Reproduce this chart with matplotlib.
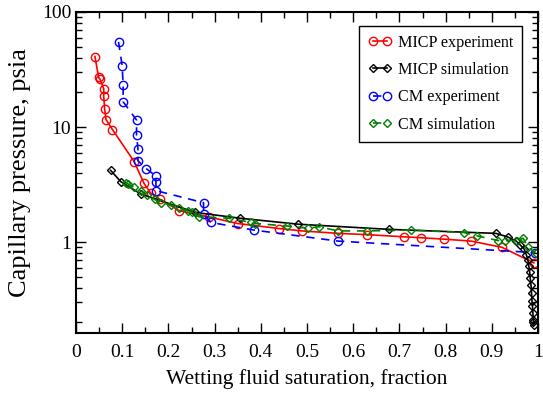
import matplotlib
matplotlib.use('Agg')
import matplotlib.pyplot as plt
from matplotlib.ticker import MultipleLocator, LogLocator, FixedLocator, FuncFormatter

plt.rcParams['font.family'] = ['Liberation Serif', 'DejaVu Serif']

# MICP experiment
micp_exp_x = [0.041, 0.049, 0.052, 0.060, 0.060, 0.062, 0.065, 0.079, 0.126, 0.147,
              0.162, 0.182, 0.223, 0.288, 0.350, 0.440, 0.489, 0.568, 0.630, 0.711,
              0.747, 0.797, 0.855, 0.922, 0.991]
micp_exp_y = [41, 27, 26, 21.5, 18.5, 14.3, 11.6, 9.5, 5.0, 3.25,
              2.65, 2.35, 1.88, 1.65, 1.45, 1.31, 1.25, 1.19, 1.16, 1.11,
              1.09, 1.06, 1.02, 0.90, 0.66]

# MICP simulation
micp_sim_x = [0.075, 0.097, 0.140, 0.258, 0.356, 0.481, 0.677, 0.909, 0.934, 0.953,
              0.962, 0.970, 0.975, 0.978, 0.980, 0.982, 0.983, 0.985, 0.986, 0.987,
              0.988, 0.989, 0.990, 0.990, 0.991]
micp_sim_y = [4.2, 3.35, 2.62, 1.81, 1.61, 1.43, 1.29, 1.19, 1.11, 1.02,
              0.94, 0.87, 0.77, 0.70, 0.62, 0.55, 0.49, 0.42, 0.36, 0.31,
              0.28, 0.24, 0.21, 0.20, 0.19]

# CM experiment
cm_exp_x = [0.092, 0.100, 0.102, 0.102, 0.131, 0.131, 0.134, 0.134, 0.152, 0.173,
            0.173, 0.173, 0.276, 0.276, 0.292, 0.386, 0.567, 0.993]
cm_exp_y = [55, 34, 23, 16.6, 11.5, 8.5, 6.5, 5.1, 4.35, 3.75,
            3.3, 2.8, 2.2, 1.75, 1.48, 1.27, 1.02, 0.81]

# CM simulation
cm_sim_x = [0.109, 0.113, 0.125, 0.140, 0.154, 0.170, 0.185, 0.205, 0.224, 0.242,
            0.251, 0.266, 0.332, 0.379, 0.388, 0.456, 0.502, 0.526, 0.567, 0.630,
            0.726, 0.840, 0.869, 0.914, 0.928, 0.955, 0.968, 0.978, 0.995]
cm_sim_y = [3.28, 3.19, 2.99, 2.78, 2.56, 2.35, 2.20, 2.10, 1.96, 1.87,
            1.81, 1.66, 1.61, 1.48, 1.45, 1.38, 1.32, 1.36, 1.25, 1.25,
            1.27, 1.21, 1.13, 1.03, 1.03, 1.03, 1.08, 0.90, 0.81]

fig = plt.figure(figsize=(5.43, 3.93), dpi=100)
ax = fig.add_axes([76/543, 1-333/393, 462/543, 321/393])

ax.plot(micp_exp_x, micp_exp_y, '-o', color='red', mfc='none', ms=6, mew=1.0, lw=1.2,
        label='MICP experiment')
ax.plot(micp_sim_x, micp_sim_y, '-D', color='black', mfc='none', ms=4, mew=1.0, lw=1.2,
        label='MICP simulation')
ax.plot(cm_exp_x, cm_exp_y, '--o', color='blue', mfc='none', ms=6, mew=1.0, lw=1.2,
        dashes=(5, 4), label='CM experiment')
ax.plot(cm_sim_x, cm_sim_y, '--D', color='green', mfc='none', ms=4, mew=1.0, lw=1.2,
        dashes=(5, 4), label='CM simulation')

ax.set_yscale('log')
ax.set_xlim(0, 1)
ax.set_ylim(0.162, 100)
ax.xaxis.set_major_locator(MultipleLocator(0.1))
ax.xaxis.set_minor_locator(MultipleLocator(0.05))
ax.xaxis.set_major_formatter(FuncFormatter(lambda v, p: '0' if abs(v) < 1e-9 else ('1' if abs(v-1) < 1e-9 else '%.1f' % v)))
ax.yaxis.set_major_locator(FixedLocator([1, 10, 100]))
ax.yaxis.set_major_formatter(FuncFormatter(lambda v, p: '%g' % v))
ax.yaxis.set_minor_locator(LogLocator(base=10, subs=range(2, 10)))
ax.yaxis.set_minor_formatter(FuncFormatter(lambda v, p: ''))

ax.tick_params(which='both', direction='in', top=True, right=True, labelsize=14, width=1.0)
ax.tick_params(which='major', length=7)
ax.tick_params(which='minor', length=4)
ax.tick_params(axis='x', which='major', pad=8)
for s in ax.spines.values():
    s.set_linewidth(1.5)

ax.set_xlabel('Wetting fluid saturation, fraction', fontsize=15.5, labelpad=6)
ax.set_ylabel('Capillary pressure, psia', fontsize=19, labelpad=8)

leg = ax.legend(loc='upper right', bbox_to_anchor=((522-76)/462, (333-26)/321), fontsize=11.6,
                numpoints=2, handlelength=1.5, handletextpad=0.35, labelspacing=0.7,
                fancybox=False, edgecolor='black', framealpha=1, borderpad=0.55,
                borderaxespad=0)
leg.get_frame().set_linewidth(1.0)

fig.savefig('out.png', dpi=100)
